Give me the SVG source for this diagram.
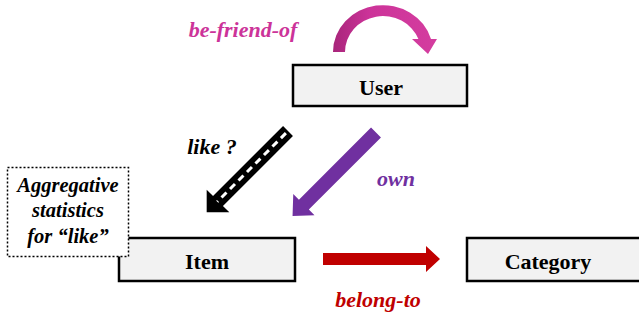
<svg xmlns="http://www.w3.org/2000/svg" width="639" height="325" viewBox="0 0 639 325">
<defs>
<style>
.box{fill:#F2F2F2;stroke:#000;stroke-width:2.5}
.sf{font-family:"Liberation Serif","Times New Roman",Times,"DejaVu Serif",serif}
.nt{font-weight:bold;font-size:22px;text-anchor:middle;fill:#000}
.lb{font-weight:bold;font-style:italic;font-size:22px}
.ag{font-weight:bold;font-style:italic;font-size:20.5px;text-anchor:middle;fill:#000}
</style>
<linearGradient id="pg" x1="0" y1="0" x2="1" y2="0">
<stop offset="0" stop-color="#A8257A"/>
<stop offset="0.35" stop-color="#CC3399"/>
<stop offset="1" stop-color="#D43D9F"/>
</linearGradient>
</defs>
<rect width="639" height="325" fill="#fff"/>
<g id="connectors">
<g id="friend-arrow">
<path d="M333,52 A50,47 0 0 1 431,39 L437,39 L428,54 L412,39 L418.4,39 A38,36 0 0 0 345,52 Z" fill="url(#pg)"/>
</g>
<g id="like-arrow" transform="translate(288,131) rotate(135)">
<polygon points="0,-7 99,-7 99,-16 115,0 99,16 99,7 0,7" fill="#000"/>
<line x1="3" y1="0" x2="100" y2="0" stroke="#fff" stroke-width="3" stroke-dasharray="7,5"/>
</g>
<g id="own-arrow" transform="translate(376,132.5) rotate(135)">
<polygon points="0,-7 102,-7 102,-15 118,0 102,15 102,7 0,7" fill="#7030A0"/>
</g>
<g id="belong-arrow">
<polygon points="323,253 426,253 426,246 440,259 426,272 426,265 323,265" fill="#C00000"/>
</g>
</g>
<g id="labels" class="sf">
<text class="lb" x="243" y="37" text-anchor="middle" fill="#CC3399">be-friend-of</text>
<text class="lb" x="212" y="154" text-anchor="middle" fill="#000">like ?</text>
<text class="lb" x="396" y="186" text-anchor="middle" fill="#7030A0">own</text>
<text class="lb" x="378" y="307" text-anchor="middle" fill="#C00000">belong-to</text>
</g>
<g id="user" class="sf">
<rect class="box" x="293" y="65" width="174" height="41"/>
<text class="nt" x="381" y="95">User</text>
</g>
<g id="item" class="sf">
<rect class="box" x="119" y="238" width="176" height="43"/>
<text class="nt" x="207" y="269">Item</text>
</g>
<g id="category" class="sf">
<rect class="box" x="467" y="238" width="180" height="43"/>
<text class="nt" x="548" y="269">Category</text>
</g>
<g id="aggregative" class="sf">
<rect x="7.5" y="167.5" width="121" height="89" fill="#fff" stroke="#000" stroke-width="1.5" stroke-dasharray="2,2"/>
<text class="ag" x="68" y="192">Aggregative</text>
<text class="ag" x="68" y="217">statistics</text>
<text class="ag" x="68" y="243">for “like”</text>
</g>
</svg>
